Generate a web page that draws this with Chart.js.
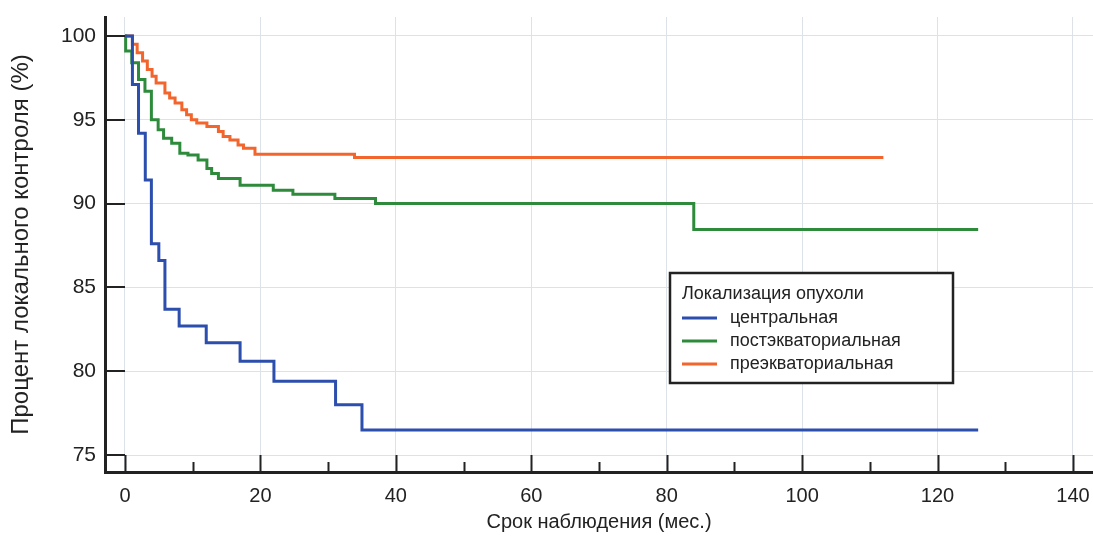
<!DOCTYPE html>
<html>
<head>
<meta charset="utf-8">
<script src="https://cdn.jsdelivr.net/npm/chart.js@4.4.0/dist/chart.umd.min.js"></script>
<style>
  html, body { margin: 0; padding: 0; background: #fff; }
</style>
</head>
<body>
<canvas id="myChart" width="1093" height="537"></canvas>
<script>
// data
const seriesNames = ["центральная", "постэкваториальная", "преэкваториальная"];
const legendTitle = "Локализация опухоли";

const centralMonths = [0, 1.1, 2.0, 3.0, 3.9, 5.0, 5.9, 8.0, 12.0, 17.0, 22.0, 31.1, 35.0, 126];
const centralPct = [100, 97.1, 94.2, 91.4, 87.6, 86.6, 83.7, 82.7, 81.7, 80.6, 79.4, 78.0, 76.5, 76.5];

const postMonths = [0, 0.1, 1.0, 2.0, 2.95, 3.9, 4.9, 5.7, 6.9, 8.1, 9.3, 10.8, 12.1, 12.8, 13.8, 17.0, 21.9, 24.8, 31.0, 37.0, 84.0, 126];
const postPct = [100, 99.1, 98.4, 97.4, 96.7, 95.0, 94.4, 93.9, 93.6, 93.0, 92.9, 92.6, 92.1, 91.8, 91.5, 91.1, 90.8, 90.55, 90.3, 90.0, 88.45, 88.45];

const preMonths = [0, 1.1, 1.8, 2.6, 3.3, 4.0, 4.6, 5.9, 6.6, 7.4, 8.4, 9.1, 9.8, 10.6, 12.1, 13.8, 14.5, 15.5, 16.7, 17.5, 19.2, 33.9, 112];
const prePct = [100, 99.5, 99.0, 98.5, 98.0, 97.6, 97.2, 96.6, 96.3, 96.0, 95.6, 95.3, 95.0, 94.8, 94.6, 94.3, 94.0, 93.8, 93.5, 93.3, 92.95, 92.75, 92.75];

const xTicks = [0, 20, 40, 60, 80, 100, 120, 140];
const xMinorTicks = [10, 30, 50, 70, 90, 110, 130];
const yTicks = [75, 80, 85, 90, 95, 100];

const xTitle = "Срок наблюдения (мес.)";
const yTitle = "Процент локального контроля (%)";

const colors = ["#2c4ead", "#2e8b3c", "#f2652c"];

function toPoints(xs, ys) {
  return xs.map((x, i) => ({ x: x, y: ys[i] }));
}

const insideTicks = {
  id: "insideTicks",
  afterDatasetsDraw(chart) {
    const { ctx, chartArea, scales } = chart;
    ctx.save();
    ctx.strokeStyle = "#222";
    ctx.lineWidth = 2;
    ctx.beginPath();
    xTicks.forEach((v) => {
      const px = Math.round(scales.x.getPixelForValue(v)) + 0.5;
      ctx.moveTo(px, chartArea.bottom);
      ctx.lineTo(px, chartArea.bottom - 17);
    });
    xMinorTicks.forEach((v) => {
      const px = Math.round(scales.x.getPixelForValue(v)) + 0.5;
      ctx.moveTo(px, chartArea.bottom);
      ctx.lineTo(px, chartArea.bottom - 10);
    });
    yTicks.forEach((v) => {
      const py = Math.round(scales.y.getPixelForValue(v));
      ctx.moveTo(chartArea.left, py);
      ctx.lineTo(chartArea.left + 20, py);
    });
    ctx.stroke();
    ctx.restore();
  },
};

const boxLegend = {
  id: "boxLegend",
  afterDraw(chart) {
    const ctx = chart.ctx;
    const left = 670, top = 273, w = 283, h = 110;
    ctx.save();
    ctx.fillStyle = "#fff";
    ctx.fillRect(left, top, w, h);
    ctx.strokeStyle = "#222";
    ctx.lineWidth = 2.5;
    ctx.strokeRect(left, top, w, h);
    ctx.font = "18px 'Liberation Sans', Arial, sans-serif";
    ctx.fillStyle = "#222";
    ctx.textBaseline = "middle";
    ctx.fillText(legendTitle, left + 12, top + 21);
    chart.data.datasets.forEach((ds, i) => {
      const y = top + 45 + i * 23;
      ctx.strokeStyle = ds.borderColor;
      ctx.lineWidth = 3;
      ctx.beginPath();
      ctx.moveTo(left + 12, y);
      ctx.lineTo(left + 47, y);
      ctx.stroke();
      ctx.fillText(ds.label, left + 60, y);
    });
    ctx.restore();
  },
};

const config = {
  type: "line",
  data: {
    datasets: [
      { label: seriesNames[0], data: toPoints(centralMonths, centralPct), borderColor: colors[0] },
      { label: seriesNames[1], data: toPoints(postMonths, postPct), borderColor: colors[1] },
      { label: seriesNames[2], data: toPoints(preMonths, prePct), borderColor: colors[2] },
    ],
  },
  options: {
    responsive: false,
    animation: false,
    devicePixelRatio: 1,
    layout: { padding: { top: 17, right: 0, left: 0, bottom: 0 } },
    elements: {
      line: { stepped: true, borderWidth: 3, fill: false, tension: 0 },
      point: { radius: 0, hoverRadius: 0 },
    },
    plugins: { legend: { display: false }, tooltip: { enabled: false } },
    scales: {
      x: {
        type: "linear",
        min: -2.95,
        max: 142.96,
        afterBuildTicks: (scale) => { scale.ticks = xTicks.map((v) => ({ value: v })); },
        afterFit: (scale) => {
          scale.height = 65;
          scale.paddingLeft = 0;
          scale.paddingRight = 0;
        },
        grid: { color: "#dde2e8", lineWidth: 1, drawTicks: false },
        border: { display: true, color: "#222", width: 3 },
        ticks: {
          padding: 12,
          color: "#222",
          font: { family: "'Liberation Sans', Arial", size: 20 },
          maxRotation: 0,
        },
        title: {
          display: true,
          text: xTitle,
          color: "#222",
          font: { family: "'Liberation Sans', Arial", size: 20 },
          padding: { top: 4, bottom: 3 },
        },
      },
      y: {
        type: "linear",
        min: 73.99,
        max: 101.13,
        afterBuildTicks: (scale) => { scale.ticks = yTicks.map((v) => ({ value: v })); },
        afterFit: (scale) => {
          scale.width = 105;
          scale.paddingTop = 0;
          scale.paddingBottom = 0;
        },
        grid: { color: "#dde2e8", lineWidth: 1, drawTicks: false },
        border: { display: true, color: "#222", width: 3 },
        ticks: {
          padding: 9,
          color: "#222",
          font: { family: "'Liberation Sans', Arial", size: 21 },
        },
        title: {
          display: true,
          text: yTitle,
          color: "#222",
          font: { family: "'Liberation Sans', Arial", size: 24 },
          padding: { top: 7, bottom: 4 },
        },
      },
    },
  },
  plugins: [insideTicks, boxLegend],
};

const myChart = new Chart(document.getElementById("myChart"), config);
</script>
</body>
</html>
